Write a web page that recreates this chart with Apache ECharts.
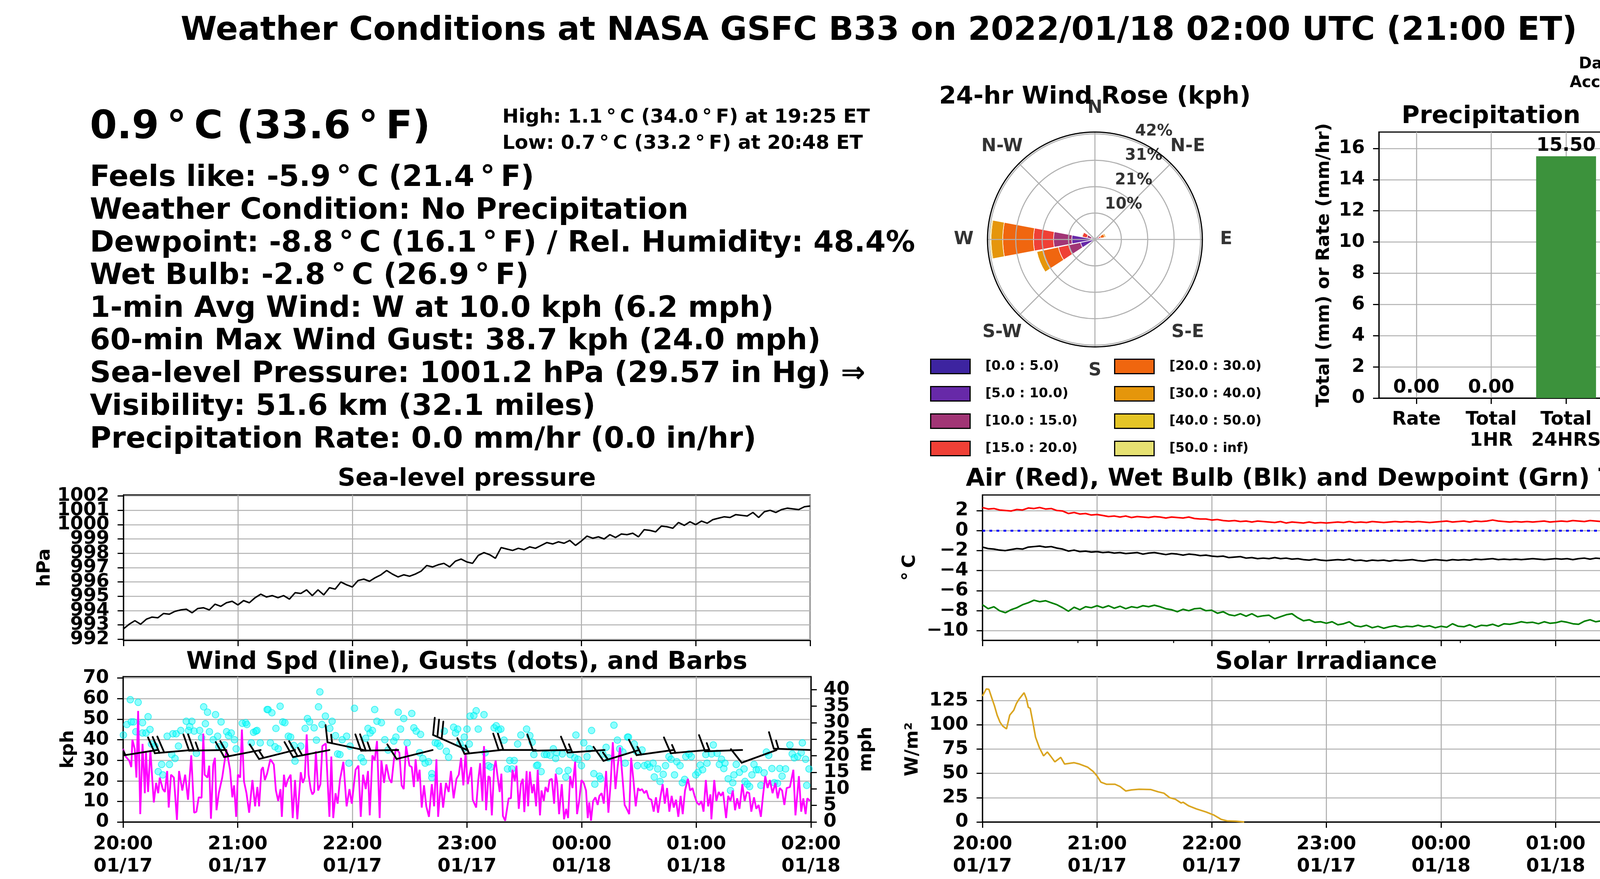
<!DOCTYPE html>
<html><head><meta charset="utf-8">
<script src="https://cdn.jsdelivr.net/npm/echarts@6/dist/echarts.min.js"></script>
<style>html,body{margin:0;padding:0;background:#fff}#c{width:4500px;height:2250px}</style>
</head><body><div id="c"></div>
<script>
const FONT = 'DejaVu Sans';
const GRID_COLOR = '#b0b0b0';

// ---------- tick labels ----------
const timeTickLabels = ['20:00\n01/17','21:00\n01/17','22:00\n01/17','23:00\n01/17','00:00\n01/18','01:00\n01/18','02:00\n01/18'];
const pressureTicks = [992,993,994,995,996,997,998,999,1000,1001,1002];
const tempCTicks = [-10,-8,-6,-4,-2,0,2];
const tempFTicks = [14,18,22,26,30,34,38];
const kphTicks = [0,10,20,30,40,50,60,70];
const mphTicks = [0,5,10,15,20,25,30,35,40];
const solarTicks = [0,25,50,75,100,125];
const precipMmTicks = [0,2,4,6,8,10,12,14,16];
const precipInTicks = [0,0.1,0.2,0.3,0.4,0.5,0.6];

// ---------- time series (3-minute samples from 20:00) ----------
const sampleStepMin = 3;
const pressureHpa = [992.73,993.05,993.30,993.05,993.40,993.55,993.50,993.80,993.75,993.95,
 994.05,994.10,993.85,994.15,994.20,994.05,994.45,994.30,994.55,994.65,
 994.40,994.70,994.55,994.90,995.15,994.95,995.05,994.90,995.05,994.80,
 995.25,995.20,995.45,995.05,995.45,995.10,995.60,995.50,996.00,995.80,
 995.65,996.10,996.20,996.05,996.30,996.50,996.80,996.55,996.35,996.50,
 996.40,996.55,996.75,997.15,997.05,997.20,997.30,997.05,997.45,997.60,
 997.40,997.30,997.85,998.05,997.90,997.65,998.40,998.30,998.20,998.35,
 998.25,998.45,998.35,998.55,998.75,998.65,998.80,998.70,998.90,998.55,
 998.85,999.20,999.05,999.15,999.00,999.30,999.10,999.35,999.30,999.40,
 999.15,999.65,999.60,999.50,999.90,999.85,999.75,1000.15,999.95,1000.20,
 1000.00,1000.25,1000.10,1000.35,1000.45,1000.55,1000.50,1000.70,1000.65,1000.60,
 1000.85,1000.50,1000.90,1001.00,1000.85,1001.05,1001.15,1001.10,1001.05,1001.25,
 1001.30];
const airTempC = [2.30,2.15,2.20,2.05,2.00,1.95,2.10,2.05,2.25,2.20,
 2.30,2.15,2.20,2.00,1.95,1.70,1.80,1.65,1.70,1.55,
 1.60,1.50,1.40,1.45,1.35,1.45,1.30,1.40,1.35,1.30,
 1.40,1.35,1.25,1.35,1.30,1.25,1.35,1.20,1.15,1.15,
 1.05,1.10,1.00,0.95,1.00,0.90,0.95,0.85,0.95,0.90,
 0.85,0.80,0.90,0.75,0.85,0.80,0.75,0.85,0.75,0.80,
 0.75,0.80,0.85,0.80,0.90,0.80,0.85,0.80,0.90,0.85,
 0.80,0.85,0.90,0.85,0.90,0.85,0.90,0.85,0.80,0.85,
 0.90,0.95,0.85,0.90,0.95,0.85,0.95,0.90,0.95,1.05,
 0.95,0.90,0.85,0.90,0.85,0.90,0.85,0.90,0.95,0.85,
 0.90,0.95,0.90,1.00,0.95,0.90,1.00,0.95,0.90,1.00,
 0.90,0.95,0.90,0.85,0.90,0.80,0.75,0.85,0.80,0.90,
 0.90];
const wetBulbC = [-1.65,-1.80,-1.85,-1.95,-2.00,-1.90,-1.80,-1.85,-1.65,-1.60,
 -1.55,-1.65,-1.60,-1.75,-1.85,-2.05,-1.95,-2.10,-2.05,-2.15,
 -2.10,-2.20,-2.15,-2.25,-2.20,-2.30,-2.25,-2.20,-2.35,-2.25,
 -2.20,-2.30,-2.40,-2.30,-2.35,-2.45,-2.35,-2.40,-2.50,-2.45,
 -2.55,-2.60,-2.55,-2.70,-2.65,-2.60,-2.75,-2.70,-2.80,-2.75,
 -2.80,-2.70,-2.80,-2.75,-2.85,-2.80,-2.90,-2.95,-2.85,-2.95,
 -3.00,-2.95,-2.90,-2.95,-2.85,-3.00,-2.95,-3.05,-2.95,-3.00,
 -2.95,-3.05,-2.95,-3.00,-2.95,-2.90,-3.00,-3.05,-2.95,-2.90,
 -2.95,-3.00,-2.90,-2.95,-2.90,-2.95,-2.85,-2.90,-2.85,-2.80,
 -2.90,-2.85,-2.90,-2.85,-2.90,-2.85,-2.80,-2.85,-2.90,-2.85,
 -2.80,-2.85,-2.80,-2.90,-2.80,-2.75,-2.85,-2.75,-2.80,-2.85,
 -2.75,-2.80,-2.75,-2.85,-2.80,-2.90,-2.95,-2.85,-2.90,-2.80,
 -2.80];
const dewpointC = [-7.40,-7.80,-7.60,-8.00,-8.20,-7.90,-7.70,-7.40,-7.20,-6.95,
 -7.10,-7.00,-7.20,-7.40,-7.70,-8.05,-7.65,-7.90,-7.60,-7.70,
 -7.50,-7.70,-7.50,-7.75,-7.55,-7.80,-7.60,-7.70,-7.50,-7.60,
 -7.45,-7.60,-7.80,-7.90,-8.10,-7.85,-8.00,-7.80,-7.75,-8.00,
 -7.95,-8.25,-8.10,-8.40,-8.50,-8.30,-8.55,-8.30,-8.60,-8.50,
 -8.45,-8.80,-8.60,-8.40,-8.30,-8.70,-9.00,-8.90,-9.15,-9.10,
 -9.25,-9.10,-9.40,-9.30,-9.10,-9.50,-9.60,-9.45,-9.70,-9.55,
 -9.75,-9.60,-9.50,-9.65,-9.55,-9.60,-9.45,-9.60,-9.50,-9.70,
 -9.55,-9.65,-9.30,-9.55,-9.60,-9.40,-9.65,-9.45,-9.50,-9.35,
 -9.55,-9.30,-9.35,-9.25,-9.10,-9.20,-9.15,-9.30,-9.10,-9.25,
 -9.20,-9.05,-9.15,-9.30,-9.35,-9.05,-8.90,-9.10,-9.00,-8.95,
 -8.80,-9.10,-9.20,-8.95,-8.90,-9.00,-9.25,-9.30,-9.05,-9.00,
 -8.80];

// ---------- solar [minute, W/m2] ----------
const solarPts = [[0,129.6],[2,136.9],[3.4,136.5],[5,127],[6.3,119.6],[7.7,110],[9.2,102.7],[10.6,98.8],[12.6,95.8],[14.3,110],[16.4,115],[17.8,122],[19.2,126.5],[21.8,133],[23,127],[24,118],[25,117],[26.4,102.7],[27.8,87.3],[29.8,76.5],[32,68],[34,72],[35.6,68],[37.9,61.9],[41,66.5],[43,59.6],[48,61],[50.8,59.6],[55,56.5],[58,51.9],[60,47.3],[62,41],[65,38.8],[69.4,38.8],[72,36.5],[75,31.9],[78,33],[82,33.7],[88,33.4],[92,31],[95,29.6],[98,25],[101,23.4],[104,19.5],[105,20.3],[108,16.5],[112,13.4],[117,10.3],[121,7.2],[125,2.6],[128,1.1],[132.5,0.8],[137,0]];

// ---------- wind speed [minute, kph] ----------
const windSpeedPts = [[0,35.6],[1.4,31.8],[3.2,29.9],[4.3,26.7],[4.9,40],[6.1,35.6],[7,21.6],[7.9,54],[9,3.8],[10.2,38],[11.4,14],[12,34.4],[13.1,14.6],[14.3,35],[16.1,9.5],[17.3,19],[18.4,14],[19.2,21.6],[20.8,16],[21.9,14.6],[23.1,24.8],[23.9,7],[25.1,23],[26.6,21.6],[28.2,1],[29.3,24.8],[31,15.3],[32.5,23],[34,10.8],[35.7,32.4],[37.2,4.5],[38.4,5],[39.6,12],[41.1,11.8],[42,43],[42.7,23],[44.2,21.6],[45.1,27.4],[46,1.6],[47.2,28],[48.1,31.2],[48.9,5.7],[50.1,14],[51.9,21.6],[53.3,30.5],[54.2,35],[56,25.4],[57.2,12],[58.1,17.8],[59.2,2.5],[60.1,23],[61.3,21.6],[62.2,45],[63.3,19.7],[64.6,14],[66,4.5],[67.7,20.4],[69.1,7.6],[70.3,17],[71.2,7.6],[72.4,25.4],[73.2,26.7],[74.2,20.4],[75.4,23.5],[77.1,30.5],[78.9,28],[80,15.3],[81.2,10.2],[82.4,16],[83.1,2.5],[84.2,23],[85.1,17],[86.2,20.4],[87.7,23],[88.8,1.9],[90,20.4],[91.2,1.3],[93,24.2],[94.1,19],[95.1,21.6],[96.1,42.6],[97.1,23],[98.2,16],[99.1,13.4],[100,14.6],[100.9,34.4],[102.1,15.3],[103.3,18.4],[104.3,36.9],[106.1,38.2],[108,2.5],[109,31.8],[110,1.9],[111.2,14],[112.3,8.9],[113.5,20.4],[115.3,29.3],[117,7.6],[118.5,16],[119.7,8.9],[121.7,25.4],[123.2,27.4],[124.4,2.5],[125.6,23],[127,16],[128.2,24.8],[129.1,3.2],[130.5,32.4],[131.7,29.9],[132.9,39.4],[134.3,1.9],[135.2,29.9],[136.6,19],[137.8,28],[139.3,21],[140.5,19],[141.7,29.9],[142.8,35.6],[144.6,33.7],[145.8,17.8],[146.9,16],[148.1,36.9],[149.9,27.4],[151.1,26.7],[152.2,17],[153.1,30.5],[154.2,19.7],[155.2,25.4],[156.3,7],[157.5,17.8],[158.7,7.6],[160.1,2.5],[161.6,18.4],[162.8,7.6],[164,30.5],[164.9,2.5],[166.3,19],[167.5,7],[169,19],[170.4,14.6],[171.6,24.8],[173,11.5],[174.5,21],[175.7,23],[176.9,31.2],[178.1,17.8],[179.2,33],[180.4,18.4],[182.2,26.7],
[183,10.8],[184.8,7],[185.9,20.4],[186.9,28.6],[188.1,10.2],[188.9,36.9],[190,5.7],[191.2,22.3],[192,21.6],[193,3.2],[194.2,26],[195,29.9],[195.9,22.9],[197.1,14.6],[198,23.5],[198.8,2.9],[200,0.6],[201.8,11.5],[203,11.5],[203.8,25.4],[205,19.7],[205.9,27.4],[207.1,6.4],[208.2,18.4],[209.2,21],[210,4.8],[211.2,24.8],[212,7.6],[212.9,24.5],[214.1,14],[215,18.4],[216.2,7.6],[217,25.4],[218.2,3.2],[219,15.3],[220.2,10.2],[221.1,17],[222.3,14.6],[223.2,20.4],[224.4,21],[225.6,8.9],[226.4,23.5],[227.2,19],[228.2,3.8],[229.6,18.4],[230.8,1.3],[231.9,6.4],[232.9,1.9],[234,22.3],[235.2,16.5],[236.6,29.3],[237.6,3.8],[238.7,10.2],[239.9,20.4],[241.1,19],[242.3,15.3],[243.2,1.9],[244,9.5],[244.9,0.6],[246,10.2],[247.2,12],[248.4,8.3],[249.3,12.7],[250.5,14],[251.6,8.9],[252.8,24.8],[254,4.5],[255.2,19],[256.3,38.8],[257.7,16],[258.9,27.4],[260.1,36.3],[261.6,19],[262.5,8.3],[263.6,6.4],[264.9,3.8],[265.9,31.2],[267.1,20.4],[268.3,7.6],[269.5,16.5],[270.4,15.3],[271.6,16],[272.8,14],[273.9,15.3],[275.1,11.5],[276.5,10.8],[277.7,5],[278.9,12],[280,4.5],[281.2,12],[282.4,18.4],[283.5,8.9],[284.7,16.5],[285.9,5],[287.1,12.7],[288.2,7],[289.4,10.8],[290.6,2.5],[291.8,12.7],[292.9,3.8],[294.1,15.3],[295.6,21],[296.8,15.3],[298,16.5],[299.1,12.7],[300.3,9.5],[301.5,8.3],[302.7,10.2],[303.8,5],[305,20.4],[306.2,7.6],[307.4,13.4],[307.9,1.3],[309.4,20.4],[310.5,10.2],[311.7,14.6],[312.9,12.7],[314,14.6],[315.6,1.9],[316.7,12.7],[317.9,10.2],[319.1,15.3],[320.3,5.7],[321.4,11.5],[322.6,6.4],[324.1,18.4],[325.3,10.2],[326.5,14.6],[327.7,14],[328.8,5],[330.2,12],[331.4,6.4],[332.6,8.3],[333.8,2.5],[334.9,12.7],[336.1,22.3],[337.3,16.5],[338.5,20.4],[339.9,14],[341.4,19],[342.6,11.5],[343.7,16.5],[344.9,15.3],[346.1,8.3],[347.3,16.5],[349,17],[350.8,25.4],[351.9,3.2],[353.7,22.3],[354.9,5],[356,11.5],[357.2,3.8],[358.1,11.5],[359.6,10.2]];

// ---------- gusts [minute, kph] ----------
const gustPts = [[0.2,42.3],[2,47.4],[3.8,59.5],[4.3,48.7],[5.5,48.7],[7.9,58.2],[6.7,43.9],[10.2,48.3],[10.2,43.3],[12,43.3],[13.1,51.2],[14.1,45],[14.9,37.9],[16.7,36.9],[18.4,24.5],[20.2,28],[20.8,22.9],[23.1,41.7],[24.3,28],[25.5,32.8],[26.1,42.9],[27.2,30.9],[27.8,42.9],[29,36.9],[30.2,44.5],[33.1,49],[34.3,44.5],[34.9,46.4],[36,49],[37.2,44.2],[38.4,33.4],[40.1,44.5],[41.1,41],[42.2,56],[43.1,47.8],[44.2,53.4],[45.2,43.9],[47.2,40],[48.4,52.2],[49.5,41.7],[50.1,36.6],[51.3,48.7],[53.1,37.5],[54.2,43.9],[55.2,42],[56.6,43.3],[58.3,40],[59.2,35.6],[62.4,48],[64.2,48.3],[64.8,47.4],[67.1,38.5],[68.3,43.6],[69.5,44.2],[70.1,44.5],[71.8,38.5],[75.4,54.7],[75.9,54.7],[77.9,53.1],[77.1,38.5],[80,45.5],[79.5,36.6],[82.2,56.3],[81.2,35.6],[83.6,48.7],[84.7,48.3],[86.5,41.7],[87.7,41.3],[89.4,37.2],[90,29.6],[93,36.9],[95.3,45.5],[96.5,50.3],[97.6,48.7],[100,45.8],[101.2,39.8],[102.3,56],[103,63.3],[104.1,47.4],[105.9,51.5],[108.2,45.5],[109.4,49],[111.2,42],[112.3,33.1],[113.5,32.8],[114.7,40],[117,41.7],[118.2,28.6],[118.8,36.9],[121.1,55.3],[124.6,31.2],[125.8,29.3],[127,40.7],[128.2,45.5],[129.3,43.3],[130.5,44.5],[131.7,54.7],[132.9,49],[135.2,48.3],[137,40],[138.7,35],[141.7,39.4],[142.8,41.3],[144,53.4],[145.2,45.2],[146.9,50.3],[148.7,38.5],[151.1,52.8],[152.2,45.8],[153.4,44.2],[155.7,42.6],[155.2,33.7],[156.9,30.9],[158.1,28.6],[159.9,29.3],[161.6,23.5],[161.6,21.6],[163.4,38.5],[164.6,38.2],[165.8,36.9],[168.1,44.2],[169.2,34.4],[170.4,31.5],[173,46.1],[174,43.3],[175.1,45.2],[176.3,38.2],[178.6,41.3],[178.6,35.9],[181.6,51.5],
[180,45.2],[181.2,37.9],[183.6,51.8],[184.8,54.1],[185.9,45.2],[188.9,52.2],[189.5,33.7],[191.2,27.4],[192.4,26.7],[194.2,45.8],[195.3,46.8],[196.5,44.8],[197.7,45.2],[199.4,39.8],[201.2,25.8],[202.4,29.9],[203.5,25.8],[204.7,29.9],[206.5,37.9],[208.2,42.3],[211.2,45.2],[212.9,42],[214.1,38.8],[215,32.8],[216.4,27.4],[217,27.7],[218.8,24.5],[220.5,32.8],[221.7,32.8],[223.5,32.4],[225.2,35.6],[226.4,30.9],[227,33.7],[228.2,24.8],[229.9,33.1],[231.7,21.9],[232.9,25.1],[234,32.8],[236.4,31.2],[237,42.3],[238.1,30.5],[239.9,27.4],[241.1,38.5],[242.8,31.8],[244,35.6],[245.2,44.5],[246.4,23.5],[246.9,18.4],[249.3,22.3],[249.9,21],[251.1,33.1],[252.8,36.3],[254,31.2],[256.9,47.1],[258.7,39.8],[259.9,35.6],[261.6,34],[262.8,28.6],[264,41.3],[264.5,41.3],[267.5,37.9],[268.6,34.4],[269.2,27.4],[271.6,35],[272.8,27.4],[274.5,28],[275.7,26.7],[277.4,28.6],[278,21.9],[279.8,25.8],[281,19.7],[282.7,23.2],[283.9,27.4],[285.7,31.8],[286.8,30.5],[288.6,22.9],[289.8,29.3],[291.5,27.4],[292.7,19.1],[293.9,20.7],[294.5,31.8],[296.2,33.1],[297.4,31.8],[299.7,22.9],[300.9,24.2],[302.1,27.7],[303.3,25.4],[305,32.8],[305.6,28.6],[308,33.1],[308.9,37.5],[310.9,33.4],[312.1,28],[313.2,30.5],[314.4,26],[315,28.6],[316.7,21],[317.9,15.3],[319.1,19.1],[319.7,22.9],[320.9,28],[322.6,24.2],[325,25.8],[325.5,19.7],[326.7,18.4],[327.9,17.2],[329.1,22.9],[330.2,28],[331.4,25.4],[332.6,25.4],[333.8,17.8],[335.5,23.9],[336.7,34],[337.9,32.4],[339.6,26],[340.8,19.1],[342.5,18.8],[343.7,26],[344.9,22.3],[346.7,25.8],[349,37.5],[350.2,33.1],[351.3,31.2],[353.1,31.8],[354.9,33.7],[355.5,38.5],[357.2,30.5],[357.8,17.8],[359,25.8]];

// ---------- wind barbs ----------
const barbMinutes = [18,36,54,72,90,108,126,144,162,180,198,216,234,252,270,288,306,324,342,360];
const barbDirDeg  = [261,265,269,259,256,259,282,269,256,294,264,270,269,266,253,262,265,268,250,272];
const barbSpeed   = [20,30,25,20,15,25,15,25,10,30,15,20,10,15,15,15,15,15,10,15];
const barbLevelKph = 35;

// ---------- precipitation ----------
const precipCats = ['Rate','Total\n1HR','Total\n24HRS'];
const precipMm = [0.00, 0.00, 15.50];

// ---------- wind rose (percent of time) ----------
const roseDirs = ['N','NNE','NE','ENE','E','ESE','SE','SSE','S','SSW','SW','WSW','W','WNW','NW','NNW'];
const roseBins = ['[0.0 : 5.0)','[5.0 : 10.0)','[10.0 : 15.0)','[15.0 : 20.0)','[20.0 : 30.0)','[30.0 : 40.0)','[40.0 : 50.0)','[50.0 : inf)'];
const roseColors = ['#3d24a0','#6729a8','#a13575','#ef4036','#f0660f','#e5960b','#e5c526','#e6e172'];
//               N  NNE NE ENE  E  ESE SE SSE S SSW SW  WSW   W    WNW  NW NNW
const rose0_5   = [0, 0, 0, 0.4, 0, 0, 0, 0, 0, 0, 0, 0.8,  0.6,  0.3, 0, 0];
const rose5_10  = [0, 0, 0, 0.6, 0, 0, 0, 0, 0, 0, 0, 5.0,  8.5,  1.1, 0, 0];
const rose10_15 = [0, 0, 0, 0.7, 0, 0, 0, 0, 0, 0, 0, 4.8,  7.2,  1.8, 0, 0];
const rose15_20 = [0, 0, 0, 0.7, 0, 0, 0, 0, 0, 0, 0, 4.1,  7.9,  1.9, 0, 0];
const rose20_30 = [0, 0, 0, 1.5, 0, 0, 0, 0, 0, 0, 0, 6.3, 12.1,  0.3, 0, 0];
const rose30_40 = [0, 0, 0, 0.5, 0, 0, 0, 0, 0, 0, 0, 2.4,  4.6,  0,   0, 0];
const rose40_50 = [0, 0, 0, 0,   0, 0, 0, 0, 0, 0, 0, 0,    0.4,  0,   0, 0];
const rose50_inf= [0, 0, 0, 0,   0, 0, 0, 0, 0, 0, 0, 0,    0,    0,   0, 0];
const roseData = [rose0_5, rose5_10, rose10_15, rose15_20, rose20_30, rose30_40, rose40_50, rose50_inf];
const roseRadiusMax = 42.3;
const roseRingStep = 10.4;
const roseRingValues = [10.4, 20.8, 31.2, 41.6];
const roseRingLabels = ['10%','21%','31%','42%'];
const roseRingLabelAngle = 22.5;
const compassAngles = [0,45,90,135,180,225,270,315];
const compassLabels = ['N','N-E','E','S-E','S','S-W','W','N-W'];

// ---------- QR code modules: per row, runs of dark columns [from,to] ----------
const qrSize = 41;
const qrRuns = [
 [[10,10],[15,16],[18,19],[22,23],[25,25],[27,27],[29,30]],
 [[8,10],[14,17],[19,19],[21,22],[24,26],[29,29],[31,31]],
 [[10,11],[17,17],[22,22],[26,26],[32,32]],
 [[11,13],[15,15],[19,20],[23,23],[28,30]],
 [[9,9],[11,12],[14,14],[16,16],[18,18],[20,21],[24,24],[27,30]],
 [[15,16],[19,19],[21,23],[30,31]],
 [[8,8],[10,10],[12,12],[14,14],[16,16],[18,18],[20,20],[22,22],[24,24],[26,26],[28,28],[30,30],[32,32]],
 [[14,15],[18,22],[29,29],[31,32]],
 [[6,6],[9,9],[11,12],[14,15],[17,17],[19,19],[21,22],[24,24],[26,29],[31,32],[34,35],[39,39]],
 [[1,2],[4,4],[8,8],[10,10],[12,12],[14,15],[19,23],[25,30],[33,37],[39,40]],
 [[0,1],[4,7],[9,12],[14,15],[17,21],[26,26],[30,30],[32,32],[35,35],[39,40]],
 [[0,0],[2,2],[5,5],[9,12],[14,15],[18,18],[20,20],[25,25],[29,29],[32,33],[35,37]],
 [[4,4],[6,8],[10,11],[15,15],[19,19],[22,22],[24,25],[29,29],[33,35],[39,39]],
 [[2,2],[4,5],[9,9],[12,14],[18,18],[20,20],[23,23],[25,26],[28,28],[31,32],[34,40]],
 [[4,9],[20,21],[25,25],[28,28],[32,34],[37,38],[40,40]],
 [[0,0],[2,2],[10,14],[16,17],[19,21],[23,23],[29,30],[35,35],[40,40]],
 [[3,3],[6,8],[10,11],[13,13],[18,19],[22,23],[25,27],[29,29],[31,32],[35,35],[37,37],[39,39]],
 [[2,2],[5,5],[8,8],[10,10],[13,14],[17,18],[21,22],[26,27],[30,30],[33,37],[40,40]],
 [[1,1],[3,3],[6,10],[12,12],[14,17],[19,19],[21,21],[25,25],[27,27],[32,36],[40,40]],
 [[0,0],[7,10],[12,12],[16,18],[20,20],[24,24],[26,26],[29,31],[35,35],[39,39]],
 [[0,0],[3,4],[6,6],[8,8],[11,11],[13,13],[19,20],[23,23],[25,26],[28,28],[30,34],[36,38],[40,40]],
 [[2,2],[4,4],[11,11],[18,22],[25,25],[27,28],[34,34],[36,38],[40,40]],
 [[0,1],[4,6],[8,8],[10,10],[13,17],[19,22],[24,25],[27,28],[30,30],[33,34],[37,38],[40,40]],
 [[1,5],[7,9],[11,11],[13,14],[17,17],[19,19],[22,22],[25,25],[27,35],[39,39]],
 [[1,2],[6,7],[12,13],[16,16],[18,18],[20,20],[22,22],[27,27],[29,29],[32,32],[37,40]],
 [[0,0],[4,4],[9,9],[11,11],[13,13],[15,15],[19,19],[24,27],[32,36],[38,40]],
 [[0,1],[3,3],[6,6],[8,10],[12,13],[16,16],[18,18],[22,23],[25,25],[27,27],[29,30],[32,32],[34,34],[36,36],[40,40]],
 [[1,5],[7,7],[10,12],[15,15],[20,20],[22,23],[29,29],[31,32],[34,35],[38,38],[40,40]],
 [[2,3],[6,6],[10,10],[12,12],[16,16],[18,18],[20,21],[23,23],[26,31],[34,34],[39,40]],
 [[0,5],[7,7],[9,10],[14,14],[16,17],[19,19],[21,21],[23,23],[30,31],[33,33],[35,36],[39,39]],
 [[3,4],[6,6],[8,8],[12,12],[19,20],[24,24],[26,27],[29,31],[33,33],[35,35],[38,38],[40,40]],
 [[4,5],[7,9],[13,14],[16,17],[21,22],[25,29],[31,34],[36,37],[39,40]],
 [[0,2],[5,9],[12,12],[14,16],[18,19],[21,21],[23,24],[29,29],[39,40]],
 [[8,8],[11,11],[13,14],[18,18],[20,21],[26,29],[31,31],[40,40]],
 [[8,8],[16,16],[18,18],[20,21],[27,27],[30,30],[38,38],[40,40]],
 [[8,12],[14,15],[18,20],[22,22],[27,27],[30,30],[39,39]],
 [[8,8],[11,16],[18,23],[27,28]],
 [[10,12],[19,21],[25,27],[30,30],[35,35],[40,40]],
 [[10,12],[20,23],[26,26],[29,30],[32,33],[37,40]],
 [[10,12],[15,16],[18,19],[22,25],[29,29],[32,32],[34,35],[37,40]],
 [[9,10],[13,14],[16,17],[19,19],[21,22],[24,25],[27,27],[29,31],[33,33],[35,35],[37,39]]
];
const qrFinderOrigins = [[0,0],[34,0],[0,34]];
const qrAlignOrigin = [32,32];
const QR_COLOR = '#3426f5';

// ---------- build helper data ----------
const idxTime = arr => arr.map((v,i)=>[i*sampleStepMin, v]);
const everyOther = (arr, start) => arr.filter((v,i)=>i%2===start);
const qrCells = [];
qrRuns.forEach((runs,r)=>runs.forEach(([a,b])=>{for(let c=a;c<=b;c++) qrCells.push([c,r]);}));
qrFinderOrigins.forEach(([c0,r0])=>{for(let r=0;r<7;r++)for(let c=0;c<7;c++){const d=Math.max(Math.abs(r-3),Math.abs(c-3)); if(d===3||d<=1) qrCells.push([c0+c,r0+r]);}});
for(let r=0;r<5;r++)for(let c=0;c<5;c++){const d=Math.max(Math.abs(r-2),Math.abs(c-2)); if(d===2||d===0) qrCells.push([qrAlignOrigin[0]+c,qrAlignOrigin[1]+r]);}
const barbData = barbMinutes.map((t,i)=>[t, barbLevelKph, barbDirDeg[i], barbSpeed[i]]);

const minus = s => String(s).replace('-', '\u2212');
const tickFont = {fontFamily:FONT, fontWeight:'bold', fontSize:48, color:'#000'};
const blackLine = {color:'#000', width:3};

function timeAxis(gridIndex, showLabels) {
  return {type:'value', gridIndex, min:0, max:360, interval:60, position:'bottom',
    axisLine:{show:true, onZero:false, lineStyle:blackLine},
    axisTick:{show:true, length:15, lineStyle:blackLine},
    axisLabel:Object.assign({show:showLabels, margin:29, lineHeight:57, showMinLabel:true, showMaxLabel:true, formatter:v=>timeTickLabels[Math.round(v/60)]}, tickFont),
    splitLine:{show:true, lineStyle:{color:GRID_COLOR, width:2.7}}};
}
function valueAxis(gridIndex, min, max, ticks, position, showGrid, name, nameGap, fmt) {
  return {type:'value', gridIndex, min, max, position,
    name, nameLocation:'middle', nameGap, nameRotate:90,
    nameTextStyle:{fontFamily:FONT, fontWeight:'bold', fontSize:47, color:'#000'},
    axisLine:{show:true, onZero:false, lineStyle:blackLine},
    axisTick:{show:true, length:15, customValues:ticks, lineStyle:blackLine},
    axisLabel:Object.assign({show:true, margin:position==='left'?36:32, customValues:ticks, showMinLabel:true, showMaxLabel:true, hideOverlap:false, formatter:fmt||(v=>String(v))}, tickFont),
    splitLine:{show:showGrid, lineStyle:{color:GRID_COLOR, width:2.7}}};
}

const D = '\u2009\u00b0\u2009';
const texts = [
  {t:'Weather Conditions at NASA GSFC B33 on 2022/01/18 02:00 UTC (21:00 ET)', x:2250, y:80, s:84, a:'center'},
  {t:'0.9'+D+'C (33.6'+D+'F)', x:230, y:328, s:100, a:'left'},
  {t:'High: 1.1'+D+'C (34.0'+D+'F) at 19:25 ET', x:1286, y:301, s:50, a:'left'},
  {t:'Low: 0.7'+D+'C (33.2'+D+'F) at 20:48 ET', x:1286, y:368, s:50, a:'left'},
  {t:'Feels like: -5.9'+D+'C (21.4'+D+'F)', x:230, y:457, s:75, a:'left'},
  {t:'Weather Condition: No Precipitation', x:230, y:541, s:75, a:'left'},
  {t:'Dewpoint: -8.8'+D+'C (16.1'+D+'F) / Rel. Humidity: 48.4%', x:230, y:625, s:75, a:'left'},
  {t:'Wet Bulb: -2.8'+D+'C (26.9'+D+'F)', x:230, y:708, s:75, a:'left'},
  {t:'1-min Avg Wind: W at 10.0 kph (6.2 mph)', x:230, y:792, s:75, a:'left'},
  {t:'60-min Max Wind Gust: 38.7 kph (24.0 mph)', x:230, y:875, s:75, a:'left'},
  {t:'Sea-level Pressure: 1001.2 hPa (29.57 in Hg) \u21d2', x:230, y:959, s:75, a:'left'},
  {t:'Visibility: 51.6 km (32.1 miles)', x:230, y:1043, s:75, a:'left'},
  {t:'Precipitation Rate: 0.0 mm/hr (0.0 in/hr)', x:230, y:1127, s:75, a:'left'},
  {t:'Data', x:4095, y:165, s:40, a:'center'},
  {t:'Access', x:4095, y:213, s:40, a:'center'},
  {t:'24-hr Wind Rose (kph)', x:2803, y:249, s:63, a:'center'},
  {t:'Precipitation', x:3817, y:299, s:63, a:'center'},
  {t:'Sea-level pressure', x:1195, y:1227, s:63, a:'center'},
  {t:'Air (Red), Wet Bulb (Blk) and Dewpoint (Grn) Temps', x:3395, y:1227, s:63, a:'center'},
  {t:'Wind Spd (line), Gusts (dots), and Barbs', x:1195, y:1696, s:63, a:'center'},
  {t:'Solar Irradiance', x:3395, y:1696, s:63, a:'center'}
];

const option = {
  animation:false,
  backgroundColor:'#fff',
  textStyle:{fontFamily:FONT},
  graphic: texts.map(o=>({type:'text', x:o.x, y:o.y, z:20, style:{text:o.t, fill:'#000', font:'bold '+o.s+'px "'+FONT+'"', align:o.a, verticalAlign:'middle'}})),
  grid:[
    {left:316, top:1267, width:1758, height:372, show:true, borderColor:'#000', borderWidth:3, outerBoundsMode:'none'},
    {left:2515, top:1267, width:1761, height:372, show:true, borderColor:'#000', borderWidth:3, outerBoundsMode:'none'},
    {left:315, top:1732, width:1761, height:372, show:true, borderColor:'#000', borderWidth:3, outerBoundsMode:'none'},
    {left:2515, top:1732, width:1761, height:372, show:true, borderColor:'#000', borderWidth:3, outerBoundsMode:'none'},
    {left:3530, top:338, width:575, height:681, show:true, borderColor:'#000', borderWidth:3, outerBoundsMode:'none'},
    {left:4185, top:33, width:270, height:270, show:false, outerBoundsMode:'none'}
  ],
  xAxis:[
    timeAxis(0,false),
    timeAxis(1,false),
    {type:'value', gridIndex:1, min:0, max:360, interval:50, position:'bottom',
      axisLine:{show:false, onZero:false}, axisLabel:{show:false}, splitLine:{show:false},
      axisTick:{show:true, length:7, lineStyle:{color:'#000', width:2.5}}},
    timeAxis(2,true),
    timeAxis(3,true),
    {type:'category', gridIndex:4, data:precipCats, position:'bottom',
      axisLine:{show:true, onZero:false, lineStyle:blackLine},
      axisTick:{show:true, length:15, alignWithLabel:true, lineStyle:blackLine},
      axisLabel:Object.assign({show:true, interval:0, margin:29, lineHeight:54}, tickFont),
      splitLine:{show:true, alignWithLabel:true, lineStyle:{color:GRID_COLOR, width:2.7}}},
    {type:'value', gridIndex:5, min:0, max:qrSize, show:false}
  ],
  yAxis:[
    valueAxis(0, 991.93, 1002.07, everyOther(pressureTicks,0), 'left', true, 'hPa', 178),
    valueAxis(1, -10.95, 3.55, tempCTicks, 'left', true, '\u00b0\u2009C', 162, minus),
    valueAxis(1, 12.29, 38.39, tempFTicks, 'right', false, '\u00b0\u2009F', 107),
    valueAxis(2, 0, 70.7, kphTicks, 'left', true, 'kph', 117),
    valueAxis(2, 0, 43.94, everyOther(mphTicks,0), 'right', false, 'mph', 118),
    valueAxis(3, 0, 149.6, solarTicks, 'left', true, 'W/m\u00b2', 155),
    valueAxis(4, 0, 17.05, precipMmTicks, 'left', true, 'Total (mm) or Rate (mm/hr)', 117),
    valueAxis(4, 0, 0.6713, precipInTicks, 'right', false, 'Total (in) or Rate (in/hr)', 131, v=>v.toFixed(1)),
    {type:'value', gridIndex:5, min:0, max:qrSize, inverse:true, show:false},
    valueAxis(0, 991.93, 1002.07, everyOther(pressureTicks,1), 'left', true, '', 178),
    valueAxis(2, 0, 43.94, everyOther(mphTicks,1), 'right', false, '', 118)
  ],
  polar:[
    {center:[2803,613], radius:275},
    {center:[2803,613], radius:275},
    {center:[2803,613], radius:336}
  ],
  angleAxis:[
    {polarIndex:0, type:'category', data:roseDirs, startAngle:101.25, clockwise:true,
      axisLine:{show:false}, axisTick:{show:false}, axisLabel:{show:false}, splitLine:{show:false}, splitArea:{show:false}},
    {polarIndex:1, type:'value', min:0, max:360, interval:45, startAngle:90, clockwise:true, z:10,
      axisLine:{show:true, lineStyle:{color:'#000', width:3}}, axisTick:{show:false}, axisLabel:{show:false},
      splitLine:{show:true, lineStyle:{color:GRID_COLOR, width:2.7}}, splitArea:{show:false}},
    {polarIndex:2, type:'value', min:0, max:360, startAngle:90, clockwise:true, show:false}
  ],
  radiusAxis:[
    {polarIndex:0, type:'value', min:0, max:roseRadiusMax, show:false},
    {polarIndex:1, type:'value', min:0, max:roseRadiusMax, interval:roseRingStep, z:10,
      axisLine:{show:false}, axisTick:{show:false}, axisLabel:{show:false},
      splitLine:{show:true, lineStyle:{color:GRID_COLOR, width:2.7}}, splitArea:{show:false}},
    {polarIndex:2, type:'value', min:0, max:1, show:false}
  ],
  legend:[
    {data:roseBins.slice(0,4), orient:'vertical', left:2381, top:918, padding:0, itemGap:30, itemWidth:101, itemHeight:37, icon:'rect',
      itemStyle:{borderColor:'#000', borderWidth:3}, selectedMode:false,
      textStyle:{fontFamily:FONT, fontWeight:'bold', fontSize:34, color:'#000', padding:[0,0,0,34], lineHeight:37}},
    {data:roseBins.slice(4), orient:'vertical', left:2852, top:918, padding:0, itemGap:30, itemWidth:101, itemHeight:37, icon:'rect',
      itemStyle:{borderColor:'#000', borderWidth:3}, selectedMode:false,
      textStyle:{fontFamily:FONT, fontWeight:'bold', fontSize:34, color:'#000', padding:[0,0,0,34], lineHeight:37}}
  ],
  series:[
    {type:'line', xAxisIndex:0, yAxisIndex:0, data:idxTime(pressureHpa), showSymbol:false, lineStyle:{color:'#000', width:3.8}, z:3},
    {type:'line', xAxisIndex:1, yAxisIndex:1, data:idxTime(airTempC), showSymbol:false, lineStyle:{color:'#ff0000', width:4}, z:3,
      markLine:{silent:true, symbol:'none', label:{show:false}, lineStyle:{color:'#0000ff', type:[7,11], width:5}, data:[{yAxis:0}]}},
    {type:'line', xAxisIndex:1, yAxisIndex:1, data:idxTime(wetBulbC), showSymbol:false, lineStyle:{color:'#000', width:4}, z:3},
    {type:'line', xAxisIndex:1, yAxisIndex:1, data:idxTime(dewpointC), showSymbol:false, lineStyle:{color:'#008000', width:4}, z:3},
    {type:'scatter', xAxisIndex:3, yAxisIndex:3, data:gustPts, symbolSize:17, z:3,
      itemStyle:{color:'rgba(0,255,255,0.55)', borderColor:'rgba(0,235,235,0.85)', borderWidth:2}},
    {type:'line', xAxisIndex:3, yAxisIndex:3, data:windSpeedPts, showSymbol:false, lineStyle:{color:'#ff00ff', width:4.5}, z:4},
    {type:'custom', xAxisIndex:3, yAxisIndex:3, data:barbData, z:5, clip:true,
      renderItem:function(params, api){
        const q = api.coord([api.value(0), api.value(1)]);
        const dir = api.value(2)*Math.PI/180, spd = api.value(3);
        const ux = Math.sin(dir), uy = -Math.cos(dir), nx = -uy, ny = ux;
        const L = 95, st = {stroke:'#000', lineWidth:4.5, lineCap:'round'};
        const px = q[0]+ux*L, py = q[1]+uy*L;
        const ch = [{type:'line', shape:{x1:q[0],y1:q[1],x2:px,y2:py}, style:st}];
        const nFull = Math.floor(spd/10), nHalf = (spd%10)>=5 ? 1 : 0;
        let d = 0;
        for(let i=0;i<nFull;i++){const bx=px-ux*d, by=py-uy*d; ch.push({type:'line', shape:{x1:bx,y1:by,x2:bx+ux*14+nx*42,y2:by+uy*14+ny*42}, style:st}); d+=12;}
        if(nHalf){ if(nFull===0) d=12; const bx=px-ux*d, by=py-uy*d; ch.push({type:'line', shape:{x1:bx,y1:by,x2:bx+ux*7+nx*21,y2:by+uy*7+ny*21}, style:st}); }
        return {type:'group', children:ch};
      }},
    {type:'line', xAxisIndex:4, yAxisIndex:5, data:solarPts, showSymbol:false, lineStyle:{color:'#daa520', width:4}, z:3},
    {type:'bar', xAxisIndex:5, yAxisIndex:6, data:precipMm, barCategoryGap:'20%', itemStyle:{color:'#3c923c'}, z:2,
      label:{show:true, position:'top', distance:2, formatter:p=>p.value.toFixed(2), fontFamily:FONT, fontWeight:'bold', fontSize:48, color:'#000'}},
    ...roseBins.map((name,i)=>({type:'bar', name, coordinateSystem:'polar', polarIndex:0, stack:'rose', data:roseData[i],
      barCategoryGap:'5%', z:2, itemStyle:{color:roseColors[i], borderColor:'#fff', borderWidth:1.5}})),
    {type:'scatter', coordinateSystem:'polar', polarIndex:2, symbolSize:1, z:12, silent:true,
      itemStyle:{color:'rgba(0,0,0,0)'},
      data:compassAngles.map((a,i)=>({value:[1, a], label:{formatter:compassLabels[i]}})),
      label:{show:true, position:'inside', fontFamily:FONT, fontWeight:'bold', fontSize:46, color:'#000'}},
    {type:'scatter', coordinateSystem:'polar', polarIndex:1, symbolSize:1, z:12, silent:true,
      itemStyle:{color:'rgba(0,0,0,0)'},
      data:roseRingValues.map((r,i)=>({value:[r, roseRingLabelAngle], label:{formatter:roseRingLabels[i]}})),
      label:{show:true, position:[0,0], align:'left', verticalAlign:'bottom', offset:[0,-6], fontFamily:FONT, fontWeight:'bold', fontSize:40, color:'#000'}},
    {type:'custom', xAxisIndex:6, yAxisIndex:8, data:qrCells, z:2,
      renderItem:function(params, api){
        const p = api.coord([api.value(0), api.value(1)]);
        const s = api.size([1,1]);
        return {type:'rect', shape:{x:p[0], y:p[1], width:s[0]+0.6, height:s[1]+0.6}, style:{fill:QR_COLOR}};
      }}
  ]
};

const chart = echarts.init(document.getElementById('c'), null, {renderer:'canvas', width:4500, height:2250});
chart.setOption(option);
</script></body></html>
